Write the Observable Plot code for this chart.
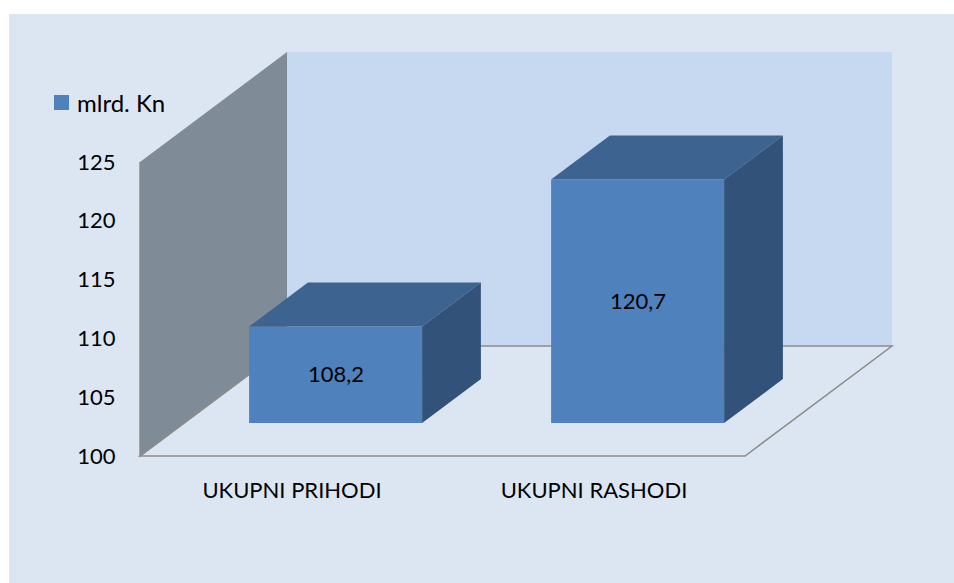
<!DOCTYPE html>
<html><head><meta charset="utf-8">
<script src="https://cdn.jsdelivr.net/npm/d3@7"></script>
<script src="https://cdn.jsdelivr.net/npm/@observablehq/plot@0.6"></script>
<style>
html,body{margin:0;padding:0;background:#fff;}
#chart{position:relative;width:954px;height:583px;overflow:hidden;font-family:Lato,"Open Sans",sans-serif;}
#panel{position:absolute;left:9px;top:14px;right:0;bottom:0;background:#dce6f2;}
#chart > svg{position:absolute;left:0;top:0;}
#legend{position:absolute;left:54px;top:86px;}
.lg-swatch > svg{margin-right:8px !important;}
.lg-swatch{font-size:24px !important;}
</style></head><body>
<div id="chart"><div id="panel"></div><div id="legend"></div></div>
<script>
// ---- data ----
const categories = ["UKUPNI PRIHODI", "UKUPNI RASHODI"];
const values = [108.2, 120.7];
const valueLabels = ["108,2", "120,7"];
const yTicks = [100, 105, 110, 115, 120, 125];
const seriesName = "mlrd. Kn";

// ---- styling ----
const colFront = "#4f81bd", colTop = "#3d6390", colSide = "#32527a";
const colBackWall = "#c6d9f1", colSideWall = "#7f8b97", colEdge = "#8c8c8c";
const DX = 147, DY = 110;          // depth of the 3D box in px
const BAR_FRONT = 0.3, BAR_DEPTH = 0.4;
const ox = DX * BAR_FRONT, oy = DY * BAR_FRONT, bdx = DX * BAR_DEPTH, bdy = DY * BAR_DEPTH;
const base = yTicks[0];

const data = categories.map((c, i) => ({category: c, value: values[i], label: valueLabels[i]}));

function walls(index, scales) {
  const x = scales.x, y = scales.y;
  const [x0, x1] = x.range();
  const yb = y(yTicks[0]), yt = y(yTicks[yTicks.length - 1]);
  const g = d3.create("svg:g");
  g.append("rect").attr("x", x0 + DX).attr("y", yt - DY).attr("width", x1 - x0).attr("height", yb - yt).attr("fill", colBackWall);
  g.append("path").attr("d", `M${x0},${yb}L${x1},${yb}L${x1 + DX},${yb - DY}L${x0 + DX},${yb - DY}Z`)
    .attr("fill", "none").attr("stroke", colEdge).attr("stroke-width", 1.5);
  g.append("path").attr("d", `M${x0},${yb}L${x0},${yt}L${x0 + DX},${yt - DY}L${x0 + DX},${yb - DY}Z`)
    .attr("fill", colSideWall);
  g.append("path").attr("d", `M${x0},${yt}L${x0},${yb}L${x0 + DX},${yb - DY}`)
    .attr("fill", "none").attr("stroke", colEdge).attr("stroke-width", 1.5);
  return g.node();
}

function barFaces(index, scales) {
  const x = scales.x, y = scales.y, bw = x.bandwidth();
  const g = d3.create("svg:g");
  for (const d of data) {
    const xl = x(d.category) + ox, xr = xl + bw;
    const yt = y(d.value) - oy, yb = y(base) - oy;
    g.append("path").attr("d", `M${xl},${yt}L${xr},${yt}L${xr + bdx},${yt - bdy}L${xl + bdx},${yt - bdy}Z`).attr("fill", colTop);
    g.append("path").attr("d", `M${xr},${yt}L${xr + bdx},${yt - bdy}L${xr + bdx},${yb - bdy}L${xr},${yb}Z`).attr("fill", colSide);
  }
  return g.node();
}

const plot = Plot.plot({
  width: 954, height: 583,
  marginLeft: 140, marginRight: 209, marginTop: 162, marginBottom: 127,
  style: {background: "transparent", fontFamily: "Lato, 'Open Sans', sans-serif", fontSize: "22px", color: "#000", overflow: "visible"},
  x: {domain: categories, paddingInner: 0.428, paddingOuter: 0.214, tickSize: 0, tickPadding: 26, label: null},
  y: {domain: [yTicks[0], yTicks[yTicks.length - 1]], ticks: yTicks, tickSize: 0, tickPadding: 25, label: null},
  marks: [
    walls,
    Plot.barY(data, {x: "category", y1: () => base, y2: "value", fill: colFront, dx: ox, dy: -oy}),
    barFaces,
    Plot.text(data, {x: "category", y: d => (base + d.value) / 2, text: "label", dx: ox, dy: -oy, fontSize: 22, fill: "#000"})
  ]
});
document.getElementById("chart").appendChild(plot);

const legend = Plot.legend({
  color: {type: "ordinal", domain: [seriesName], range: [colFront]},
  legend: "swatches", swatchSize: 15, className: "lg",
  style: {fontSize: "24px", fontFamily: "Lato, 'Open Sans', sans-serif", color: "#000"}
});
document.getElementById("legend").appendChild(legend);
</script>
</body></html>
